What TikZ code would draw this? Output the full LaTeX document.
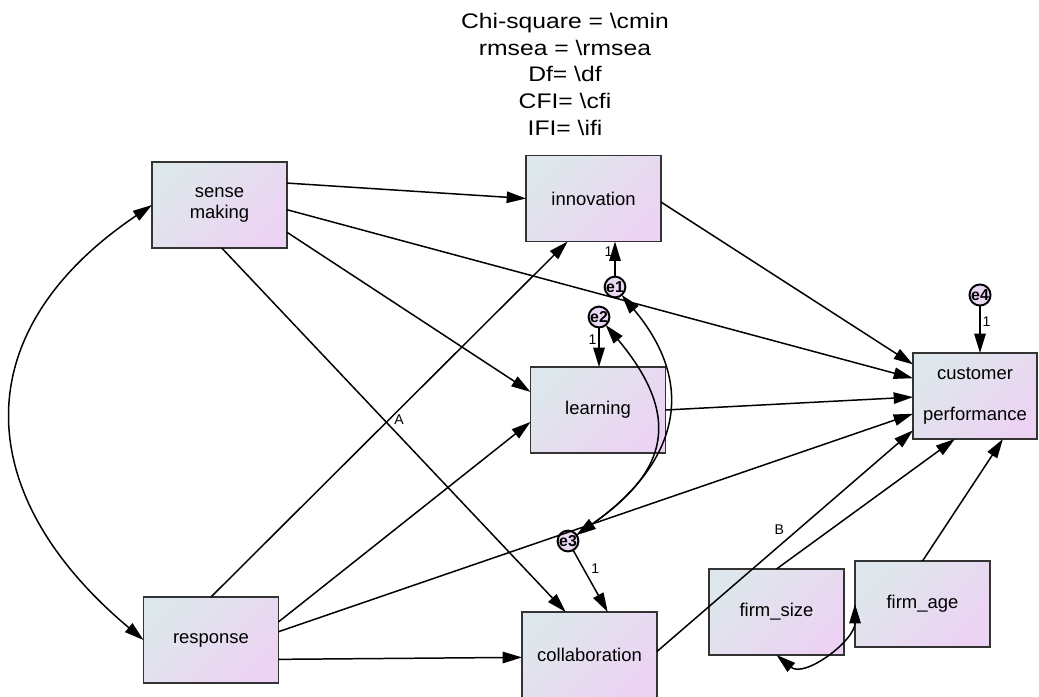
\documentclass[tikz,border=0pt]{standalone}
\usepackage{fontspec}
\setmainfont{Liberation Sans}
\newfontfamily\fitfont[FakeStretch=1.17]{Liberation Sans}
\usepackage{tikz}
\usetikzlibrary{%
  arrows.meta,%
  calc,%
  positioning%
}
\definecolor{boxL}{RGB}{222,231,235}
\definecolor{boxR}{RGB}{236,211,243}
\definecolor{errfill}{RGB}{232,216,242}
\tikzset{>={Triangle[length=11pt,width=6.5pt]}}

\begin{document}
\begin{tikzpicture}[x=0.02cm, y=0.02cm,
    var/.style={draw=black!80, line width=1.1pt, align=center,
      font=\fontsize{10.5}{12}\selectfont,
      left color=boxL, right color=boxR, shading angle=45,
      minimum width=2.7cm, minimum height=1.72cm, inner sep=0pt, outer sep=0pt},
    err/.style={circle, draw=black, line width=1.1pt, fill=errfill,
      minimum size=10.5pt, inner sep=0pt, outer sep=0pt,
      font=\fontsize{9}{9}\selectfont\bfseries},
    reg/.style={line width=0.85pt, ->},
    cov/.style={line width=0.85pt, <->},
    lbl/.style={font=\fontsize{8}{8}\selectfont, inner sep=1pt}]
    \useasboundingbox (0,0) rectangle (1039,-697);
    % fit indices
    \node[anchor=north, align=center, inner sep=0pt,
      font=\fitfont\fontsize{12}{15.3}\selectfont] (gof) at (565,-12.5)
      {Chi-square = \textbackslash cmin\\rmsea = \textbackslash rmsea\\
       Df= \textbackslash df\\CFI= \textbackslash cfi\\IFI= \textbackslash ifi};
    % observed variables
    \node[var] (sense) at (219.5,-205) {sense\\making};
    \node[var] (innov) at (593.5,-198.5) {innovation};
    \node[var] (learn) at (598,-410) {learning};
    \node[var, minimum width=2.48cm] (custp) at (975,-396)
      {customer\\[11pt]performance};
    \node[var] (resp) at (211,-640) {response};
    \node[var] (collab) at (589.5,-655) {collaboration};
    \node[var] (fsize) at (776.5,-612) {firm\_size};
    \node[var] (fage) at (922.5,-604) {firm\_age};
    % errors
    \node[err] (e1) at (615,-287) {e1};
    \node[err] (e2) at (599,-317) {e2};
    \node[err] (e3) at (568,-541) {e3};
    \node[err, minimum size=12pt] (e4) at (980,-295) {e4};
    % paths
    \draw[reg] (sense.18) -- (innov.west);
    \draw[reg] (sense.-4) -- (custp.164);
    \draw[reg] (sense.-22) -- (learn.165);
    \draw[reg] (sense.-87) -- (collab.119);
    \draw[reg] (innov.-3) -- (custp.153);
    \draw[reg] (learn.east) -- (custp.181);
    \draw[reg] (resp.north) -- node[lbl, pos=0.5, right=1.5pt] {A} (innov.-121);
    \draw[reg] (resp.15) -- (learn.190);
    \draw[reg] (resp.7) -- (custp.196);
    \draw[reg] (resp.-16) -- (collab.182);
    \draw[reg] (collab.3) -- node[lbl, pos=0.55, left=6.5pt] {B} (custp.209);
    \draw[reg] (fsize.north) -- (custp.245);
    \draw[reg] (fage.north) -- (custp.303);
    \draw[reg] (e1) -- node[lbl, pos=0.7, left] {1} (e1 |- innov.south);
    \draw[reg] (e2) -- node[lbl, pos=0.3, left] {1} (e2 |- learn.north);
    \draw[reg] (e3) -- node[lbl, pos=0.3, right=3pt] {1} (collab.67);
    \draw[reg] (e4) -- node[lbl, pos=0.35, right] {1} (e4 |- custp.north);
    % covariances
    \draw[cov] (sense.west) to[out=214, in=140, looseness=1.33] (resp.west);
    \draw[cov] (e1) to[out=-50, in=35, out distance=2.6cm, in distance=2.2cm] (e3);
    \draw[cov] (e2) to[out=-50, in=35, out distance=2.6cm, in distance=2cm] (e3);
    \draw[cov] (fsize.south) to[out=-40, in=-90] (fage.west);
\end{tikzpicture}
\end{document}
